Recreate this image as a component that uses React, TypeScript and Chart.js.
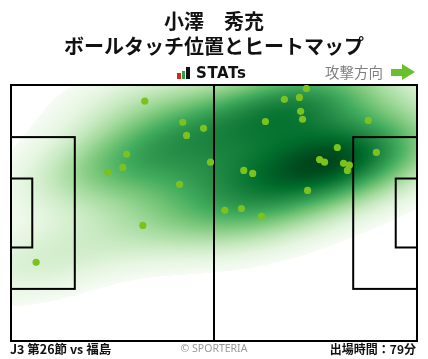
import React, { useEffect, useRef } from "react";
import { Chart, registerables } from "chart.js";

Chart.register(...registerables);

// ---- data (pitch metres: x 0..105 left→right, y 0..68 top→bottom) ----
const touchX = [34.6, 44.4, 49.8, 45.4, 29.9, 28.9, 25.0, 43.6, 51.6, 76.4, 70.7, 74.6, 74.9, 75.4, 65.8, 92.4, 84.4, 94.5, 79.8, 81.1, 86.0, 87.5, 87.0, 60.2, 62.5, 76.7, 55.3, 59.6, 64.8, 34.1, 6.5];
const touchY = [4.3, 9.9, 11.5, 13.4, 18.4, 21.9, 23.2, 26.4, 20.5, 0.9, 3.8, 3.3, 7.0, 9.1, 9.7, 9.4, 16.6, 17.9, 19.8, 20.5, 20.8, 21.3, 22.7, 22.7, 23.5, 28.0, 33.3, 32.8, 34.9, 37.3, 47.1];

const titleLine1 = "小澤　秀充";
const titleLine2 = "ボールタッチ位置とヒートマップ";
const logoText = "STATs";
const directionLabel = "攻撃方向";
const matchLabel = "J3 第26節 vs 福島";
const creditLabel = "© SPORTERIA";
const playTimeLabel = "出場時間：79分";

const PITCH_L = 105;
const PITCH_W = 68;
const BOX_D = 16.5;
const BOX_W = 40.32;
const GOAL_D = 5.5;
const GOAL_W = 18.32;
const THRESH = 0.018;
const BW_ADJUST = 1.15;
const GAMMA = 0.75;

const GREENS = [
  [247, 252, 245], [229, 245, 224], [199, 233, 192], [161, 217, 155],
  [116, 196, 118], [65, 171, 93], [35, 139, 69], [0, 109, 44], [0, 68, 27],
];

function greens(t: number) {
  const c = Math.max(0, Math.min(1, t)) * (GREENS.length - 1);
  const i = Math.min(GREENS.length - 2, Math.floor(c));
  const f = c - i;
  const a = GREENS[i], b = GREENS[i + 1];
  return [a[0] + (b[0] - a[0]) * f, a[1] + (b[1] - a[1]) * f, a[2] + (b[2] - a[2]) * f];
}

function buildKde(xs: number[], ys: number[]) {
  const n = xs.length;
  const mx = xs.reduce((s, v) => s + v, 0) / n;
  const my = ys.reduce((s, v) => s + v, 0) / n;
  let sxx = 0, syy = 0, sxy = 0;
  for (let i = 0; i < n; i++) {
    sxx += (xs[i] - mx) ** 2;
    syy += (ys[i] - my) ** 2;
    sxy += (xs[i] - mx) * (ys[i] - my);
  }
  sxx /= n - 1; syy /= n - 1; sxy /= n - 1;
  const f2 = Math.pow(n, -1 / 3) * BW_ADJUST * BW_ADJUST;
  const a = sxx * f2, d = syy * f2, b = sxy * f2;
  const det = a * d - b * b;
  const ia = d / det, id = a / det, ib = -b / det;
  const density = (x: number, y: number) => {
    let s = 0;
    for (let i = 0; i < n; i++) {
      const dx = x - xs[i], dy = y - ys[i];
      s += Math.exp(-0.5 * (ia * dx * dx + 2 * ib * dx * dy + id * dy * dy));
    }
    return s;
  };
  return { density, bwx: Math.sqrt(a), bwy: Math.sqrt(d) };
}

const pitchPlugin = {
  id: "pitchHeat",
  beforeDatasetsDraw(chart: any) {
    const { ctx, chartArea, scales } = chart;
    const xs = scales.x, ys = scales.y;
    const kde = buildKde(touchX, touchY);
    const G = 200;
    const x0 = Math.min(...touchX) - 3 * kde.bwx, x1 = Math.max(...touchX) + 3 * kde.bwx;
    const y0 = Math.min(...touchY) - 3 * kde.bwy, y1 = Math.max(...touchY) + 3 * kde.bwy;
    const vals: number[] = [];
    for (let j = 0; j < G; j++) {
      const gy = y0 + ((y1 - y0) * j) / (G - 1);
      for (let i = 0; i < G; i++) vals.push(kde.density(x0 + ((x1 - x0) * i) / (G - 1), gy));
    }
    vals.sort((p, q) => q - p);
    const total = vals.reduce((s, v) => s + v, 0);
    let acc = 0, level = vals[vals.length - 1];
    for (let i = 0; i < vals.length; i++) {
      acc += vals[i];
      if (acc / total >= 1 - THRESH) { level = vals[i]; break; }
    }
    const dmax = vals[0];

    const left = Math.round(chartArea.left), top = Math.round(chartArea.top);
    const w = Math.round(chartArea.right) - left, h = Math.round(chartArea.bottom) - top;
    const off = document.createElement("canvas");
    off.width = w; off.height = h;
    const octx = off.getContext("2d")!;
    const img = octx.createImageData(w, h);
    for (let py = 0; py < h; py++) {
      const vy = ys.getValueForPixel(top + py + 0.5);
      for (let px = 0; px < w; px++) {
        const vx = xs.getValueForPixel(left + px + 0.5);
        const d = kde.density(vx, vy);
        if (d < level) continue;
        const t = Math.pow(Math.min(1, (d - level) / (dmax - level)), GAMMA);
        const c = greens(t);
        const k = (py * w + px) * 4;
        img.data[k] = c[0]; img.data[k + 1] = c[1]; img.data[k + 2] = c[2]; img.data[k + 3] = 255;
      }
    }
    octx.putImageData(img, 0, 0);
    ctx.drawImage(off, left, top);

    const X = (v: number) => xs.getPixelForValue(v);
    const Y = (v: number) => ys.getPixelForValue(v);
    const rect = (ax: number, ay: number, bx: number, by: number) => {
      ctx.strokeRect(X(ax), Y(ay), X(bx) - X(ax), Y(by) - Y(ay));
    };
    ctx.save();
    ctx.strokeStyle = "#000";
    ctx.lineWidth = 2;
    rect(0, 0, PITCH_L, PITCH_W);
    ctx.beginPath();
    ctx.moveTo(X(PITCH_L / 2), Y(0));
    ctx.lineTo(X(PITCH_L / 2), Y(PITCH_W));
    ctx.stroke();
    const by0 = (PITCH_W - BOX_W) / 2, by1 = by0 + BOX_W;
    const gy0 = (PITCH_W - GOAL_W) / 2, gy1 = gy0 + GOAL_W;
    rect(0, by0, BOX_D, by1);
    rect(PITCH_L - BOX_D, by0, PITCH_L, by1);
    rect(0, gy0, GOAL_D, gy1);
    rect(PITCH_L - GOAL_D, gy0, PITCH_L, gy1);
    ctx.restore();
  },
};

export default function App() {
  const ref = useRef<HTMLCanvasElement>(null);
  useEffect(() => {
    const chart = new Chart(ref.current!, {
      type: "scatter",
      data: {
        datasets: [
          {
            data: touchX.map((x, i) => ({ x, y: touchY[i] })),
            pointRadius: 3.6,
            pointBackgroundColor: "#7cc21f",
            pointBorderWidth: 0,
          },
        ],
      },
      options: {
        animation: false,
        responsive: false,
        devicePixelRatio: 1,
        layout: { padding: { left: 11, right: 11, top: 85, bottom: 18 } },
        scales: {
          x: { type: "linear", min: 0, max: PITCH_L, display: false },
          y: { type: "linear", min: 0, max: PITCH_W, reverse: true, display: false },
        },
        plugins: { legend: { display: false }, tooltip: { enabled: false } },
      },
      plugins: [pitchPlugin],
    } as any);
    return () => chart.destroy();
  }, []);

  const jp = '"Noto Sans CJK JP", "Noto Sans", sans-serif';
  const abs = (s: React.CSSProperties): React.CSSProperties => ({ position: "absolute", whiteSpace: "nowrap", ...s });

  return (
    <div style={{ position: "fixed", left: 0, top: 0, width: 428, height: 359, background: "#fff", fontFamily: jp }}>
      <canvas ref={ref} width={428} height={359} style={{ position: "absolute", left: 0, top: 0 }} />
      <div style={abs({ left: 0, width: 428, top: 10, textAlign: "center", fontSize: 20, lineHeight: "22px", fontWeight: 700, color: "#111" })}>{titleLine1}</div>
      <div style={abs({ left: 0, width: 428, top: 35, textAlign: "center", fontSize: 20, lineHeight: "22px", fontWeight: 700, color: "#111" })}>{titleLine2}</div>
      <div style={abs({ left: 177, top: 73, width: 4, height: 6, background: "#d9261c" })} />
      <div style={abs({ left: 182, top: 71, width: 3, height: 8, background: "#2ea043" })} />
      <div style={abs({ left: 186, top: 67, width: 4, height: 12, background: "#111" })} />
      <div style={abs({ left: 196, top: 64, fontFamily: '"DejaVu Sans", sans-serif', fontSize: 15, lineHeight: "18px", fontWeight: 700, letterSpacing: 0.6, color: "#111" })}>{logoText}</div>
      <div style={abs({ left: 325, top: 63, fontSize: 14.5, lineHeight: "18px", color: "#808080" })}>{directionLabel}</div>
      <div style={abs({ left: 391, top: 69, width: 12, height: 7, background: "#6abf2e" })} />
      <div style={abs({ left: 402, top: 64, width: 0, height: 0, borderTop: "8.5px solid transparent", borderBottom: "8.5px solid transparent", borderLeft: "13px solid #6abf2e" })} />
      <div style={abs({ left: 10, top: 341, fontSize: 12.5, lineHeight: "16px", fontWeight: 700, color: "#111" })}>{matchLabel}</div>
      <div style={abs({ left: 0, width: 428, top: 341, textAlign: "center", fontFamily: '"Noto Sans", sans-serif', fontSize: 10.5, lineHeight: "14px", color: "#999" })}>{creditLabel}</div>
      <div style={abs({ right: 12, top: 341, fontSize: 12, lineHeight: "16px", fontWeight: 700, color: "#111" })}>{playTimeLabel}</div>
    </div>
  );
}
